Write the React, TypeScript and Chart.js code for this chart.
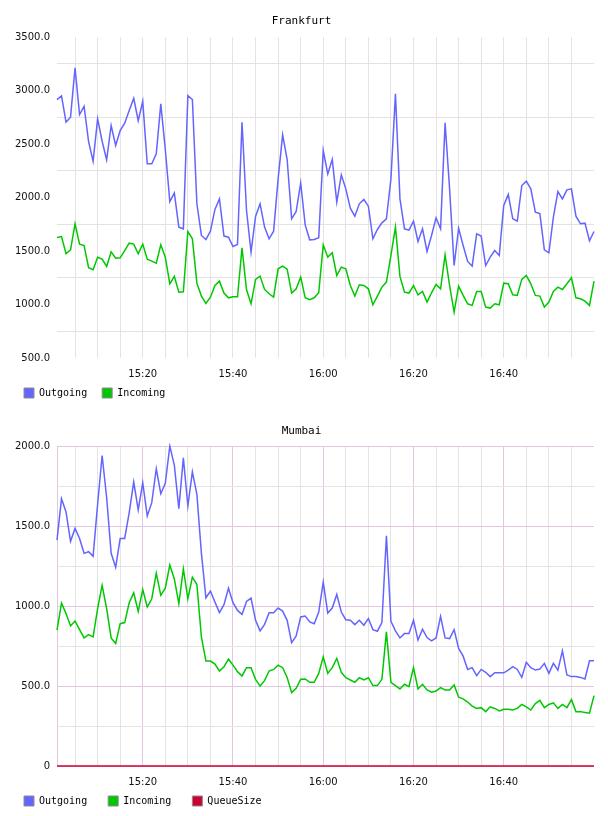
import React, { useEffect, useRef } from 'react';
import { Chart, registerables } from 'chart.js';

Chart.register(...registerables);

// Minutes after 15:00; one sample per minute from 15:01 to 17:00.
const FIRST_MINUTE = 1;
const LAST_MINUTE = 120;
const GRID_MINUTES = [5, 10, 15, 20, 25, 30, 35, 40, 45, 50, 55, 60, 65, 70, 75, 80, 85, 90, 95, 100, 105, 110, 115];
const TICK_MINUTES = [20, 40, 60, 80, 100];
const TICK_LABELS = ['15:20', '15:40', '16:00', '16:20', '16:40'];

const FRA_OUT = [
  2917, 2951, 2705, 2752, 3213, 2777, 2854, 2524, 2340, 2736,
  2527, 2353, 2674, 2487, 2627, 2696, 2814, 2929, 2720, 2901,
  2316, 2316, 2409, 2876, 2450, 1963, 2044, 1724, 1708, 2954,
  2917, 1942, 1646, 1608, 1686, 1889, 1988, 1640, 1630, 1543,
  1562, 2705, 1879, 1490, 1823, 1942, 1724, 1615, 1686, 2175,
  2587, 2356, 1802, 1870, 2138, 1745, 1605, 1608, 1624, 2440,
  2222, 2356, 1957, 2213, 2082, 1901, 1826, 1942, 1982, 1920,
  1615, 1702, 1764, 1802, 2175, 2970, 1988, 1708, 1696, 1780,
  1590, 1708, 1496, 1646, 1811, 1708, 2699, 2082, 1365, 1714,
  1552, 1403, 1359, 1661, 1640, 1365, 1443, 1505, 1459, 1926,
  2029, 1802, 1780, 2113, 2154, 2082, 1864, 1851, 1512, 1484,
  1817, 2057, 1988, 2073, 2082, 1826, 1755, 1761, 1596, 1683,
];

const FRA_IN = [
  1627, 1636, 1475, 1512, 1755, 1565, 1552, 1344, 1325, 1443,
  1424, 1356, 1493, 1434, 1437, 1505, 1574, 1565, 1475, 1565,
  1424, 1406, 1387, 1558, 1443, 1194, 1263, 1116, 1119, 1683,
  1615, 1200, 1079, 1010, 1069, 1178, 1219, 1107, 1063, 1073,
  1073, 1530, 1138, 1007, 1235, 1266, 1141, 1101, 1069, 1334,
  1359, 1331, 1107, 1147, 1256, 1063, 1045, 1063, 1110, 1558,
  1443, 1484, 1272, 1350, 1334, 1178, 1079, 1185, 1178, 1147,
  998, 1079, 1163, 1210, 1459, 1724, 1263, 1116, 1107, 1178,
  1091, 1122, 1023, 1110, 1188, 1147, 1465, 1178, 929, 1172,
  1085, 1007, 992, 1122, 1122, 976, 967, 1007, 998, 1200,
  1194, 1091, 1085, 1235, 1272, 1194, 1085, 1079, 976, 1023,
  1122, 1163, 1141, 1194, 1250, 1063, 1054, 1032, 992, 1219,
];

const MUM_OUT = [
  1413, 1672, 1589, 1405, 1486, 1423, 1330, 1340, 1311, 1637,
  1942, 1679, 1330, 1243, 1423, 1423, 1585, 1776, 1602, 1772,
  1564, 1647, 1859, 1703, 1768, 2000, 1882, 1610, 1927, 1627,
  1840, 1699, 1330, 1052, 1094, 1025, 959, 1009, 1112, 1021,
  973, 948, 1029, 1050, 911, 845, 886, 959, 959, 988,
  969, 911, 772, 814, 932, 938, 901, 890, 963, 1150,
  957, 988, 1073, 963, 915, 911, 884, 911, 880, 922,
  853, 843, 897, 1440, 905, 845, 801, 828, 828, 911,
  787, 855, 803, 783, 801, 936, 801, 797, 853, 735,
  687, 604, 615, 565, 604, 586, 559, 583, 583, 583,
  600, 621, 604, 554, 648, 615, 600, 606, 642, 579,
  642, 600, 720, 569, 559, 559, 554, 544, 658, 658,
];

const MUM_IN = [
  849, 1019, 953, 876, 907, 853, 801, 822, 807, 984,
  1129, 984, 801, 766, 890, 897, 1021, 1083, 967, 1104,
  994, 1046, 1206, 1067, 1112, 1257, 1170, 1015, 1233, 1046,
  1181, 1135, 807, 656, 656, 637, 594, 621, 668, 631,
  590, 563, 615, 615, 542, 500, 534, 594, 604, 631,
  615, 554, 459, 486, 542, 544, 523, 523, 579, 683,
  579, 615, 673, 586, 552, 538, 523, 552, 538, 552,
  503, 503, 542, 839, 523, 503, 482, 511, 496, 615,
  482, 511, 476, 461, 469, 490, 476, 476, 507, 430,
  420, 400, 375, 360, 365, 340, 370, 360, 345, 355,
  355, 350, 360, 385, 370, 350, 390, 410, 365, 385,
  395, 360, 385, 365, 415, 340, 340, 335, 330, 440,
];

const MUM_QUEUE = [
  0, 0, 0, 0, 0, 0, 0, 0, 0, 0,
  0, 0, 0, 0, 0, 0, 0, 0, 0, 0,
  0, 0, 0, 0, 0, 0, 0, 0, 0, 0,
  0, 0, 0, 0, 0, 0, 0, 0, 0, 0,
  0, 0, 0, 0, 0, 0, 0, 0, 0, 0,
  0, 0, 0, 0, 0, 0, 0, 0, 0, 0,
  0, 0, 0, 0, 0, 0, 0, 0, 0, 0,
  0, 0, 0, 0, 0, 0, 0, 0, 0, 0,
  0, 0, 0, 0, 0, 0, 0, 0, 0, 0,
  0, 0, 0, 0, 0, 0, 0, 0, 0, 0,
  0, 0, 0, 0, 0, 0, 0, 0, 0, 0,
  0, 0, 0, 0, 0, 0, 0, 0, 0, 0,
];

const BLUE = '#6464ff';
const GREEN = '#00c800';
const CRIMSON = '#cc0033';
const GREY = '#e3e3e3';
const PINK = 'rgb(224,200,224)';
const NONE = 'rgba(0,0,0,0)';

type Series = { label: string; values: number[]; color: string };

type PanelProps = {
  title: string;
  series: Series[];
  yMin: number;
  yMax: number;
  majorX: string;
  majorY: string;
  leftBorder: boolean;
  titleGap: number;
  height: number;
};

const fmtY = (v: number) => (v === 0 ? '0' : v.toFixed(1));

// Pulls the legend row up closer to the time axis labels.
const legendLift = {
  id: 'legendLift',
  afterLayout(chart: any) {
    const lg = chart.legend;
    if (!lg) return;
    lg.top -= 10;
    lg.bottom -= 10;
  },
};

function Panel(p: PanelProps) {
  const ref = useRef<HTMLCanvasElement | null>(null);

  useEffect(() => {
    if (!ref.current) return;
    const tickFont = { family: 'DejaVu Sans', size: 10 };
    const monoFont = { family: 'DejaVu Sans Mono', size: 10 };

    const chart = new Chart(ref.current, {
      type: 'line',
      data: {
        datasets: p.series.map((s) => ({
          label: s.label,
          data: s.values.map((v, i) => ({ x: FIRST_MINUTE + i, y: v })),
          borderColor: s.color,
          backgroundColor: s.color,
          borderWidth: 1.5,
          pointRadius: 0,
          tension: 0,
          fill: false,
          clip: 3,
        })),
      },
      options: {
        animation: false,
        responsive: false,
        layout: { padding: { left: 1, right: 6, top: 0, bottom: 0 } },
        scales: {
          x: {
            type: 'linear',
            min: FIRST_MINUTE,
            max: LAST_MINUTE,
            afterBuildTicks: (s: any) => {
              s.ticks = GRID_MINUTES.map((v) => ({ value: v }));
            },
            afterFit: (s: any) => {
              s.height = 25;
            },
            ticks: {
              autoSkip: false,
              maxRotation: 0,
              padding: 10,
              font: tickFont,
              color: '#111',
              callback: (v: any) => {
                const k = TICK_MINUTES.indexOf(Number(v));
                return k >= 0 ? TICK_LABELS[k] : '';
              },
            },
            grid: {
              drawTicks: false,
              color: (ctx: any) => (TICK_MINUTES.includes(ctx.tick?.value) ? p.majorX : GREY),
            },
            border: { display: false },
          },
          y: {
            min: p.yMin,
            max: p.yMax,
            afterFit: (s: any) => {
              s.width = 48;
            },
            ticks: {
              stepSize: 250,
              autoSkip: false,
              padding: 7,
              font: tickFont,
              color: '#111',
              callback: (v: any) => (Number(v) % 500 === 0 ? fmtY(Number(v)) : ''),
            },
            grid: {
              drawTicks: false,
              color: (ctx: any) => (ctx.tick && ctx.tick.value % 500 === 0 ? p.majorY : GREY),
            },
            border: { display: p.leftBorder, color: PINK },
          },
        },
        plugins: {
          title: {
            display: true,
            text: p.title,
            color: '#000',
            font: { family: 'DejaVu Sans Mono', size: 11, weight: 'normal' },
            padding: { top: 7, bottom: p.titleGap },
          },
          legend: {
            position: 'bottom',
            align: 'start',
            labels: {
              font: monoFont,
              color: '#000',
              boxWidth: 10,
              boxHeight: 10,
              padding: 15,
              generateLabels: (c: any) => {
                const sets = c.data.datasets;
                const w = Math.max(...sets.map((d: any) => d.label.length));
                return sets.map((d: any, i: number) => ({
                  text: d.label.padEnd(w, ' '),
                  fillStyle: d.borderColor,
                  strokeStyle: '#8c8c8c',
                  lineWidth: 1,
                  hidden: false,
                  datasetIndex: i,
                  fontColor: '#000',
                }));
              },
            },
          },
          tooltip: { enabled: false },
        },
      } as any,
      plugins: [legendLift],
    });
    return () => chart.destroy();
  }, []);

  return <canvas ref={ref} width={592} height={p.height} style={{ display: 'block' }} />;
}

export default function App() {
  return (
    <div style={{ height: 800, overflow: 'hidden' }}>
      <Panel
        title="Frankfurt"
        series={[
          { label: 'Outgoing', values: FRA_OUT, color: BLUE },
          { label: 'Incoming', values: FRA_IN, color: GREEN },
        ]}
        yMin={500}
        yMax={3500}
        majorX={GREY}
        majorY={NONE}
        leftBorder={false}
        titleGap={9}
        height={410}
      />
      <Panel
        title="Mumbai"
        series={[
          { label: 'Outgoing', values: MUM_OUT, color: BLUE },
          { label: 'Incoming', values: MUM_IN, color: GREEN },
          { label: 'QueueSize', values: MUM_QUEUE, color: CRIMSON },
        ]}
        yMin={0}
        yMax={2000}
        majorX={PINK}
        majorY={PINK}
        leftBorder={true}
        titleGap={8}
        height={408}
      />
    </div>
  );
}
